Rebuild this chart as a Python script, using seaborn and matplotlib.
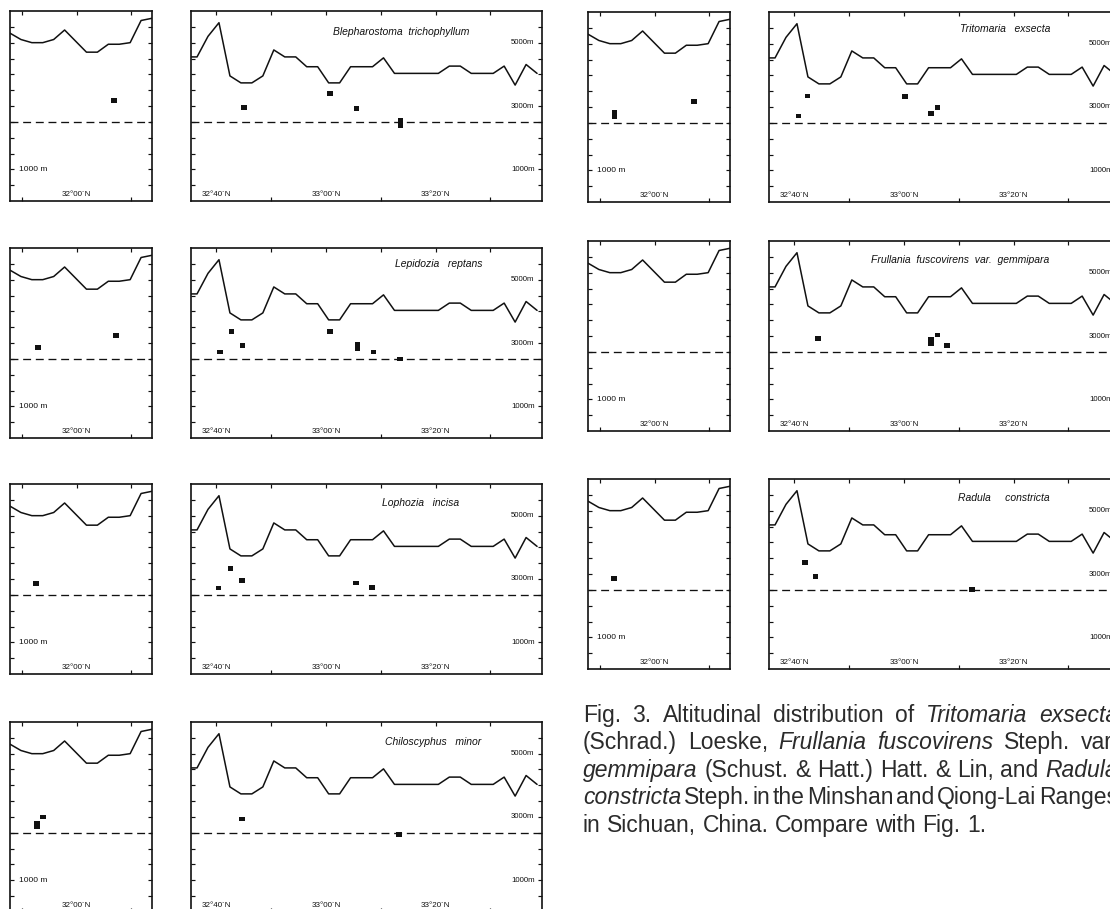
import matplotlib
matplotlib.use("Agg")
import matplotlib.pyplot as plt
import seaborn as sns
from matplotlib.path import Path
from matplotlib.transforms import blended_transform_factory, IdentityTransform

sns.set_theme(style="white")
plt.rcParams['font.family'] = ['Liberation Sans', 'DejaVu Sans']

W, H = 1110, 909
INK = "#111111"

# ---------------- data (latitude in minutes north of 32°00', altitude in m) -------------
SMALL_PROFILE_LAT = [-12.2, -10.2, -8.2, -6.2, -4.2, -2.2, -0.2, 1.8, 3.8, 5.8, 7.8, 9.8, 11.8, 13.8]
SMALL_PROFILE_ALT = [5300, 5100, 5000, 5000, 5100, 5400, 5050, 4700, 4700, 4950, 4950, 5000, 5700, 5770]

BIG_PROFILE_LAT = [35.4, 36.5, 38.5, 40.5, 42.5, 44.5, 46.5, 48.5, 50.5, 52.5, 54.5, 56.5, 58.5,
                   60.5, 62.5, 64.5, 66.5, 68.5, 70.5, 72.5, 74.5, 76.5, 78.5, 80.5, 82.5, 84.5,
                   86.5, 88.5, 90.5, 92.5, 94.5, 96.5, 98.5]
BIG_PROFILE_ALT = [4550, 4550, 5200, 5630, 3950, 3730, 3730, 3950, 4770, 4550, 4550, 4240, 4240,
                   3730, 3730, 4240, 4240, 4240, 4520, 4030, 4030, 4030, 4030, 4030, 4260, 4260,
                   4030, 4030, 4030, 4260, 3660, 4310, 4030]

FOREST_LINE = 2500
ALT_TICKS = [500, 1000, 1500, 2000, 2500, 3000, 3500, 4000, 4500, 5000, 5500]
BIG_ALT_LABELS = [5000, 3000, 1000]
BIG_ALT_TEXT = ["5000m", "3000m", "1000m"]
SMALL_ALT_LABEL = 1000
SMALL_ALT_TEXT = "1000 m"

SMALL_XLIM = (-12.2, 13.8)
BIG_XLIM = (35.4, 99.4)
SMALL_TICKS = [-10, 10]
SMALL_TOP_EXTRA = [0]
SMALL_LAT_POS = [0]
SMALL_LAT_TEXT = ["32°00´N"]
BIG_TICKS = [50, 70, 90]
BIG_TOP_EXTRA = [40, 60, 80]
BIG_LAT_POS = [40, 60, 80]
BIG_LAT_TEXT = ["32°40´N", "33°00´N", "33°20´N"]

SPECIES = ["Blepharostoma  trichophyllum", "Lepidozia   reptans", "Lophozia   incisa",
           "Chiloscyphus   minor", "Tritomaria   exsecta",
           "Frullania  fuscovirens  var.  gemmipara", "Radula     constricta"]

BLEPH_SMALL_LAT = [6.8]
BLEPH_SMALL_ALT = [3170]
BLEPH_BIG_LAT = [45.0, 60.8, 65.6, 73.6, 73.6]
BLEPH_BIG_ALT = [2950, 3400, 2920, 2540, 2390]

LEPID_SMALL_LAT = [-7.1, 7.2]
LEPID_SMALL_ALT = [2850, 3230]
LEPID_BIG_LAT = [40.7, 42.8, 44.8, 60.8, 65.75, 65.75, 68.7, 73.5]
LEPID_BIG_ALT = [2720, 3370, 2930, 3370, 2970, 2830, 2720, 2500]

LOPHO_SMALL_LAT = [-7.5]
LOPHO_SMALL_ALT = [2850]
LOPHO_BIG_LAT = [40.4, 42.6, 44.7, 65.5, 68.4]
LOPHO_BIG_ALT = [2720, 3340, 2950, 2880, 2740]

CHILO_SMALL_LAT = [-7.2, -7.2, -6.2]
CHILO_SMALL_ALT = [2810, 2680, 3000]
CHILO_BIG_LAT = [44.7, 73.3]
CHILO_BIG_ALT = [2940, 2450]

TRITO_SMALL_LAT = [-7.35, -7.35, 7.2]
TRITO_SMALL_ALT = [2820, 2690, 3180]
TRITO_BIG_LAT = [40.8, 42.4, 60.2, 64.9, 66.1]
TRITO_BIG_ALT = [2710, 3350, 3330, 2800, 2980]

FRULL_SMALL_LAT = []
FRULL_SMALL_ALT = []
FRULL_BIG_LAT = [44.4, 65.0, 65.0, 66.1, 67.9]
FRULL_BIG_ALT = [2920, 2900, 2770, 3030, 2700]

RADUL_SMALL_LAT = [-7.4]
RADUL_SMALL_ALT = [2860]
RADUL_BIG_LAT = [42.0, 43.9, 72.4]
RADUL_BIG_ALT = [3370, 2930, 2510]

CAPTION_LINES = [
    [("Fig.", 0), ("3.", 0), ("Altitudinal", 0), ("distribution", 0), ("of", 0),
     ("Tritomaria", 1), ("exsecta", 1)],
    [("(Schrad.)", 0), ("Loeske,", 0), ("Frullania", 1), ("fuscovirens", 1), ("Steph.", 0),
     ("var.", 0)],
    [("gemmipara", 1), ("(Schust.", 0), ("&", 0), ("Hatt.)", 0), ("Hatt.", 0), ("&", 0),
     ("Lin,", 0), ("and", 0), ("Radula", 1)],
    [("constricta", 1), ("Steph.", 0), ("in", 0), ("the", 0), ("Minshan", 0), ("and", 0),
     ("Qiong-Lai", 0), ("Ranges", 0)],
    [("in", 0), ("Sichuan,", 0), ("China.", 0), ("Compare", 0), ("with", 0), ("Fig.", 0),
     ("1.", 0)],
]

# ---------------- layout (pixels) ----------------
PANEL_H = 190
SMALL_W = 142
BIG_W = 351
LAYOUT = [
    (0, BLEPH_SMALL_LAT, BLEPH_SMALL_ALT, BLEPH_BIG_LAT, BLEPH_BIG_ALT, 10, 191, 11, 0.60, 0.89),
    (1, LEPID_SMALL_LAT, LEPID_SMALL_ALT, LEPID_BIG_LAT, LEPID_BIG_ALT, 10, 191, 248, 0.705, 0.915),
    (2, LOPHO_SMALL_LAT, LOPHO_SMALL_ALT, LOPHO_BIG_LAT, LOPHO_BIG_ALT, 10, 191, 484, 0.655, 0.90),
    (3, CHILO_SMALL_LAT, CHILO_SMALL_ALT, CHILO_BIG_LAT, CHILO_BIG_ALT, 10, 191, 722, 0.69, 0.895),
    (4, TRITO_SMALL_LAT, TRITO_SMALL_ALT, TRITO_BIG_LAT, TRITO_BIG_ALT, 588, 769, 12, 0.672, 0.91),
    (5, FRULL_SMALL_LAT, FRULL_SMALL_ALT, FRULL_BIG_LAT, FRULL_BIG_ALT, 588, 769, 241, 0.544, 0.898),
    (6, RADUL_SMALL_LAT, RADUL_SMALL_ALT, RADUL_BIG_LAT, RADUL_BIG_ALT, 588, 769, 479, 0.67, 0.90),
]

RECT = Path([(-1, -0.8), (1, -0.8), (1, 0.8), (-1, 0.8), (-1, -0.8)],
            [Path.MOVETO, Path.LINETO, Path.LINETO, Path.LINETO, Path.CLOSEPOLY])

fig = plt.figure(figsize=(W / 100, H / 100), dpi=100)
fig.patch.set_facecolor("white")


def add_ax(x0, y0, w, h):
    return fig.add_axes([x0 / W, 1 - (y0 + h) / H, w / W, h / H])


def style_axes(ax, xlim, ticks, top_extra):
    ax.set_xlim(*xlim)
    ax.set_ylim(0, 6000)
    ax.set_facecolor("white")
    for sp in ax.spines.values():
        sp.set_visible(True)
        sp.set_linewidth(1.2)
        sp.set_color(INK)
    ax.set_yticks(ALT_TICKS)
    ax.set_xticks(ticks)
    ax.set_xticks(top_extra, minor=True)
    ax.tick_params(axis="both", which="major", direction="in", length=3.2, width=0.85,
                   color=INK, left=True, right=True, bottom=True, top=True,
                   labelleft=False, labelbottom=False, labelright=False, labeltop=False)
    ax.tick_params(axis="x", which="minor", direction="in", length=3.2, width=0.85,
                   color=INK, bottom=False, top=True, labelbottom=False)
    ax.tick_params(axis="y", which="minor", left=False, right=False)
    ax.set_xlabel("")
    ax.set_ylabel("")
    ax.grid(False)


def draw_panel(ax, prof_lat, prof_alt, pts_lat, pts_alt):
    sns.lineplot(x=prof_lat, y=prof_alt, ax=ax, color=INK, linewidth=1.1,
                 estimator=None, sort=False, legend=False)
    ax.axhline(FOREST_LINE, color=INK, linewidth=0.95, dashes=(6.0, 3.6))
    if pts_lat:
        sns.scatterplot(x=pts_lat, y=pts_alt, ax=ax, marker=RECT, s=17, color=INK,
                        linewidth=0, edgecolor="none", zorder=4, legend=False)


for (sp_i, s_lat, s_alt, b_lat, b_alt, sx, bx, top, tx, ty) in LAYOUT:
    axs = add_ax(sx, top, SMALL_W, PANEL_H)
    draw_panel(axs, SMALL_PROFILE_LAT, SMALL_PROFILE_ALT, s_lat, s_alt)
    style_axes(axs, SMALL_XLIM, SMALL_TICKS, SMALL_TOP_EXTRA)
    trx = blended_transform_factory(axs.transData, axs.transAxes)
    for p, t in zip(SMALL_LAT_POS, SMALL_LAT_TEXT):
        axs.text(p, 0.034, t, transform=trx, ha="center", va="center", fontsize=5.8, color=INK)
    try_ = blended_transform_factory(axs.transAxes, axs.transData)
    axs.text(0.062, SMALL_ALT_LABEL, SMALL_ALT_TEXT, transform=try_, ha="left", va="center",
             fontsize=6.0, color=INK)

    axb = add_ax(bx, top, BIG_W, PANEL_H)
    draw_panel(axb, BIG_PROFILE_LAT, BIG_PROFILE_ALT, b_lat, b_alt)
    style_axes(axb, BIG_XLIM, BIG_TICKS, BIG_TOP_EXTRA)
    trx = blended_transform_factory(axb.transData, axb.transAxes)
    for p, t in zip(BIG_LAT_POS, BIG_LAT_TEXT):
        axb.text(p, 0.034, t, transform=trx, ha="center", va="center", fontsize=5.8, color=INK)
    try_ = blended_transform_factory(axb.transAxes, axb.transData)
    for a, t in zip(BIG_ALT_LABELS, BIG_ALT_TEXT):
        axb.text(0.979, a, t, transform=try_, ha="right", va="center", fontsize=5.6, color=INK)
    axb.text(tx, ty, SPECIES[sp_i], transform=axb.transAxes, ha="center", va="center",
             fontsize=7.5, style="italic", color=INK)

# ---------------- caption (justified block) ----------------
CAP_FS = 16.5
CAP_X0 = 583
CAP_RIGHT = 1118
CAP_BASELINES = [722, 749, 777, 804, 832]
CAP_COLOR = "#2b2b2b"

fig.canvas.draw()
renderer = fig.canvas.get_renderer()
space_px = 0.278 * CAP_FS * 100 / 72
ident = IdentityTransform()
for li, words in enumerate(CAPTION_LINES):
    ys = H - CAP_BASELINES[li]
    texts = []
    widths = []
    for w, it in words:
        t = fig.text(0, ys, w, transform=ident, fontsize=CAP_FS, color=CAP_COLOR,
                     style="italic" if it else "normal", ha="left", va="baseline")
        texts.append(t)
        widths.append(t.get_window_extent(renderer).width)
    if li == len(CAPTION_LINES) - 1:
        gap = space_px
    else:
        gap = (CAP_RIGHT - CAP_X0 - sum(widths)) / (len(words) - 1)
        gap = max(gap, 0.25 * space_px)
    x = CAP_X0
    for t, wd in zip(texts, widths):
        t.set_x(x)
        x += wd + gap

fig.savefig("out.png", dpi=100, facecolor="white")
